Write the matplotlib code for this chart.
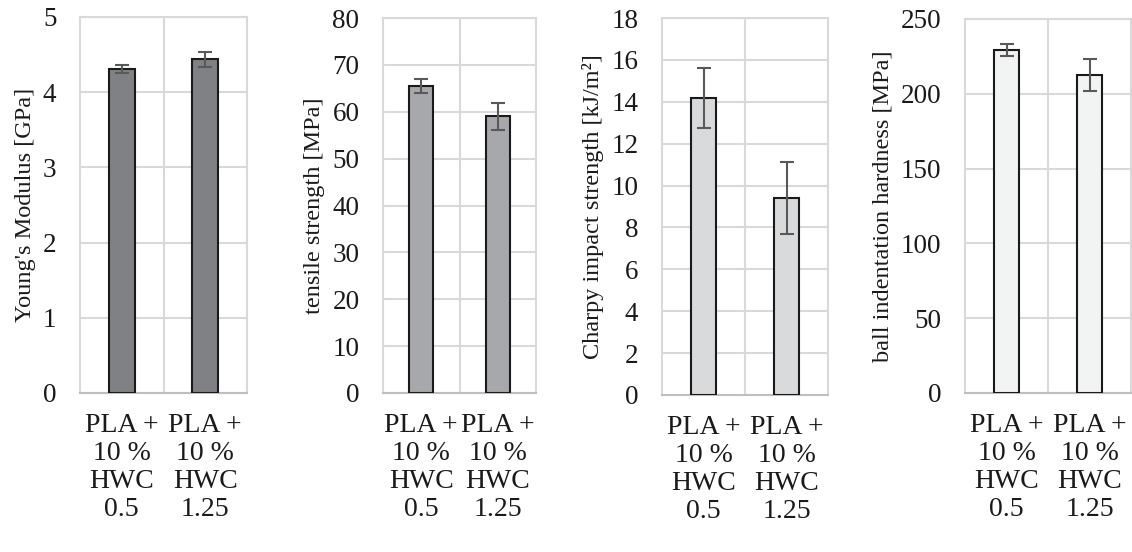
import matplotlib
matplotlib.use("Agg")
import matplotlib.pyplot as plt
import numpy as np

plt.rcParams['font.family'] = ['Liberation Serif', 'DejaVu Serif']

categories = ["PLA +\n10 %\nHWC\n0.5", "PLA +\n10 %\nHWC\n1.25"]

youngs = [4.31, 4.44]
youngs_err = [0.05, 0.10]
tensile = [65.5, 59.0]
tensile_err = [1.5, 2.85]
charpy = [14.18, 9.40]
charpy_err = [1.45, 1.73]
hardness = [229.3, 212.5]
hardness_err = [4.3, 10.6]

panels = [
    dict(vals=youngs, err=youngs_err, ylabel="Young's Modulus [GPa]", ymax=5, step=1,
         color="#808184", rect=[80, 17, 167, 376]),
    dict(vals=tensile, err=tensile_err, ylabel="tensile strength [MPa]", ymax=80, step=10,
         color="#a7a8ab", rect=[383, 18, 153, 375]),
    dict(vals=charpy, err=charpy_err, ylabel="Charpy impact strength [kJ/m²]", ymax=18, step=2,
         color="#d9dadb", rect=[662, 18, 166, 377]),
    dict(vals=hardness, err=hardness_err, ylabel="ball indentation hardness [MPa]", ymax=250, step=50,
         color="#f2f3f3", rect=[965, 19, 166, 374]),
]

W, H = 1132, 552
fig = plt.figure(figsize=(W / 100, H / 100), dpi=100)
grid_c = "#d9d9d9"

for p in panels:
    x0, y0, w, h = p["rect"]
    ax = fig.add_axes([x0 / W, 1 - (y0 + h) / H, w / W, h / H])
    x = np.arange(len(categories))
    ax.bar(x, p["vals"], width=0.31, color=p["color"], edgecolor="#1a1a1a", linewidth=1.5,
           yerr=p["err"], capsize=5, zorder=3,
           error_kw=dict(ecolor="#595959", elinewidth=1.5, capthick=1.5, zorder=4))
    ax.set_xlim(-0.5, 1.5)
    ax.set_ylim(0, p["ymax"])
    ax.set_yticks(np.arange(0, p["ymax"] + p["step"] / 2, p["step"]))
    ax.set_xticks(x)
    ax.set_xticklabels(categories, fontsize=20, linespacing=1.15)
    ax.tick_params(axis='y', labelsize=19.5, length=0, pad=17)
    ax.tick_params(axis='x', length=0, pad=14.5)
    ax.set_ylabel(p["ylabel"], fontsize=17.5, labelpad=5)
    ax.set_xticks([0.5], minor=True)
    ax.tick_params(axis='x', which='minor', length=0)
    ax.grid(True, axis='y', color=grid_c, linewidth=1.5, zorder=0)
    ax.grid(True, axis='x', which='minor', color=grid_c, linewidth=1.5, zorder=0)
    ax.grid(False, axis='x', which='major')
    for s in ax.spines.values():
        s.set_color(grid_c)
        s.set_linewidth(1.5)
    ax.spines['bottom'].set_color("#bfbfbf")
    for lab in ax.get_yticklabels() + ax.get_xticklabels():
        lab.set_color("#1a1a1a")
    ax.yaxis.label.set_color("#1a1a1a")

fig.savefig("out.png", dpi=100)
